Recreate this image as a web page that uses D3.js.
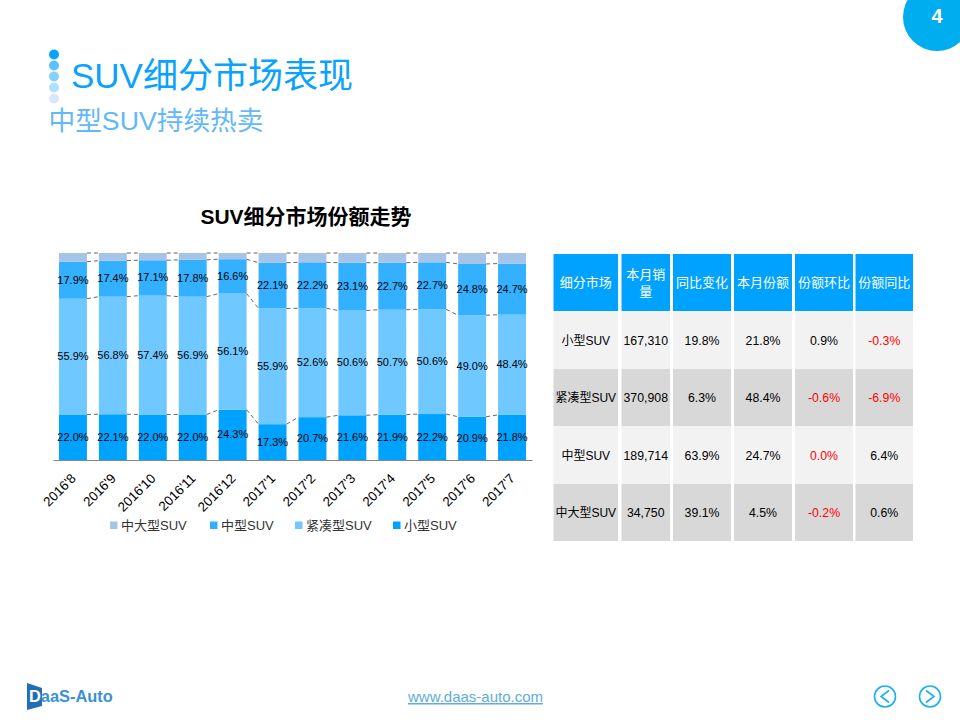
<!DOCTYPE html>
<html>
<head>
<meta charset="utf-8">
<script src="https://cdn.jsdelivr.net/npm/d3@7"></script>
<style>
    html, body { margin: 0; padding: 0; background: #fff; }
    svg { display: block; }
    text { font-family: "Liberation Sans", "Noto Sans CJK SC", sans-serif; }
</style>
</head>
<body>
<div id="chart"></div>
<script>
// share per month, stacked from the bottom up
const data = [
    {month: "2016'8",  small: 22.0, compact: 55.9, mid: 17.9, large: 4.2},
    {month: "2016'9",  small: 22.1, compact: 56.8, mid: 17.4, large: 3.7},
    {month: "2016'10", small: 22.0, compact: 57.4, mid: 17.1, large: 3.5},
    {month: "2016'11", small: 22.0, compact: 56.9, mid: 17.8, large: 3.3},
    {month: "2016'12", small: 24.3, compact: 56.1, mid: 16.6, large: 3.0},
    {month: "2017'1",  small: 17.3, compact: 55.9, mid: 22.1, large: 4.7},
    {month: "2017'2",  small: 20.7, compact: 52.6, mid: 22.2, large: 4.5},
    {month: "2017'3",  small: 21.6, compact: 50.6, mid: 23.1, large: 4.7},
    {month: "2017'4",  small: 21.9, compact: 50.7, mid: 22.7, large: 4.7},
    {month: "2017'5",  small: 22.2, compact: 50.6, mid: 22.7, large: 4.5},
    {month: "2017'6",  small: 20.9, compact: 49.0, mid: 24.8, large: 5.3},
    {month: "2017'7",  small: 21.8, compact: 48.4, mid: 24.7, large: 5.1}
];

const keys = ['small', 'compact', 'mid', 'large'];
const colors = {small: '#00a2ff', compact: '#6fc8ff', mid: '#33b0ff', large: '#a6c3e8'};
const names = {small: '小型SUV', compact: '紧凑型SUV', mid: '中型SUV', large: '中大型SUV'};

const header = ['细分市场', '本月销量', '同比变化', '本月份额', '份额环比', '份额同比'];
const rows = [
    ['小型SUV', '167,310', '19.8%', '21.8%', '0.9%', '-0.3%'],
    ['紧凑型SUV', '370,908', '6.3%', '48.4%', '-0.6%', '-6.9%'],
    ['中型SUV', '189,714', '63.9%', '24.7%', '0.0%', '6.4%'],
    ['中大型SUV', '34,750', '39.1%', '4.5%', '-0.2%', '0.6%']
];

const svg = d3.select('#chart').append('svg')
    .attr('width', 960)
    .attr('height', 720);

// slide furniture
svg.append('circle').attr('cx', 937).attr('cy', 17).attr('r', 34).attr('fill', '#00aeef');
svg.append('text').attr('x', 937).attr('y', 23).attr('text-anchor', 'middle')
    .attr('font-size', 20).attr('font-weight', 'bold').attr('fill', '#fff').text('4');

const dots = ['#0aa2ff', '#5cc1ff', '#85d0ff', '#aee0ff', '#d6e8f7'];
svg.selectAll('.dot').data(dots).enter().append('circle')
    .attr('class', 'dot')
    .attr('cx', 54)
    .attr('cy', (d, i) => 54.5 + i * 11)
    .attr('r', 5)
    .attr('fill', d => d);

svg.append('text').attr('x', 71).attr('y', 88).attr('font-size', 35)
    .attr('fill', '#0aa2ff').text('SUV细分市场表现');
svg.append('text').attr('x', 48.5).attr('y', 130).attr('font-size', 26.7)
    .attr('fill', '#63b8fa').text('中型SUV持续热卖');

svg.append('text').attr('x', 306).attr('y', 224).attr('text-anchor', 'middle')
    .attr('font-size', 21).attr('font-weight', 'bold').attr('fill', '#000').text('SUV细分市场份额走势');

// stacked bars
const margin = {top: 253, left: 53, right: 428, bottom: 260};
const width = 960 - margin.left - margin.right,
      height = 720 - margin.top - margin.bottom;

const chart = svg.append('g')
    .attr('transform', `translate(${margin.left},${margin.top})`);

const x = d3.scaleBand()
    .domain(data.map(d => d.month))
    .range([0, width])
    .paddingInner(0.3)
    .paddingOuter(0.15);
const y = d3.scaleLinear().domain([0, 100]).range([height, 0]);

const stacked = d3.stack().keys(keys)(data);

const layer = chart.selectAll('.layer').data(stacked).enter().append('g')
    .attr('class', 'layer')
    .attr('fill', d => colors[d.key]);

layer.selectAll('rect').data(d => d).enter().append('rect')
    .attr('x', d => x(d.data.month))
    .attr('y', d => y(d[1]))
    .attr('width', x.bandwidth())
    .attr('height', d => y(d[0]) - y(d[1]));

// dashed series lines between neighbouring bars
stacked.forEach(s => {
    chart.selectAll(null).data(s.slice(1)).enter().append('line')
        .attr('x1', (d, i) => x(s[i].data.month) + x.bandwidth())
        .attr('x2', d => x(d.data.month))
        .attr('y1', (d, i) => y(s[i][1]))
        .attr('y2', d => y(d[1]))
        .attr('stroke', '#404040')
        .attr('stroke-width', 0.8)
        .attr('stroke-dasharray', '4,3');
});

// labels for the three lower series
stacked.slice(0, 3).forEach(s => {
    chart.selectAll(null).data(s).enter().append('text')
        .attr('x', d => x(d.data.month) + x.bandwidth() / 2)
        .attr('y', d => (y(d[0]) + y(d[1])) / 2 + 3.5)
        .attr('text-anchor', 'middle')
        .attr('font-size', 11)
        .attr('fill', '#000')
        .text(d => d.data[s.key].toFixed(1) + '%');
});

const xAxis = chart.append('g')
    .attr('transform', `translate(0,${height})`)
    .call(d3.axisBottom(x).tickSize(0).tickPadding(9));
xAxis.select('.domain').attr('stroke', '#868686').attr('stroke-width', 1);
xAxis.selectAll('text')
    .attr('font-family', '"Liberation Sans", sans-serif')
    .attr('font-size', 13.3)
    .attr('fill', '#000')
    .attr('text-anchor', 'end')
    .attr('dx', '-11px')
    .attr('dy', '7.3px')
    .attr('transform', 'rotate(-45)');

// legend, widest entry order as on the slide
const legendX = {large: 110, mid: 210, compact: 295, small: 393};
const legend = svg.selectAll('.legend').data(keys.slice().reverse()).enter().append('g')
    .attr('class', 'legend')
    .attr('transform', d => `translate(${legendX[d]},525)`);
legend.append('rect').attr('y', -3.5).attr('width', 7.5).attr('height', 7.5).attr('fill', d => colors[d]);
legend.append('text').attr('x', 11).attr('y', 5).attr('font-size', 13).attr('fill', '#333')
    .text(d => names[d]);

// table
const colEdges = [[553.5, 618], [621.5, 670], [673, 731], [734, 792], [795, 853], [855.5, 913]];
const rowEdges = [[254, 311], [311.5, 369], [369, 426], [426, 484], [484, 541]];
const table = svg.append('g');

const tableRows = table.selectAll('.row').data([header].concat(rows)).enter().append('g')
    .attr('class', 'row');

const cells = tableRows.selectAll('g')
    .data((row, r) => row.map((v, c) => ({v, r, c})))
    .enter().append('g');

cells.append('rect')
    .attr('x', d => colEdges[d.c][0])
    .attr('y', d => rowEdges[d.r][0])
    .attr('width', d => colEdges[d.c][1] - colEdges[d.c][0])
    .attr('height', d => rowEdges[d.r][1] - rowEdges[d.r][0])
    .attr('fill', d => d.r === 0 ? '#00a2ff' : (d.r % 2 ? '#f2f2f2' : '#d8d8d8'));

// share change column is red for anything not positive
const isRed = d => d.r > 0 && (d.v.startsWith('-') || (d.c === 4 && d.v === '0.0%'));

cells.each(function(d) {
    const cx = (colEdges[d.c][0] + colEdges[d.c][1]) / 2;
    const cy = (rowEdges[d.r][0] + rowEdges[d.r][1]) / 2;
    // the one header that wraps in its narrow column
    const lines = d.v === '本月销量' ? ['本月销', '量'] : [d.v];
    d3.select(this).selectAll('text').data(lines).enter().append('text')
        .attr('x', cx)
        .attr('y', (l, i) => cy + 4.5 + (i - (lines.length - 1) / 2) * 17)
        .attr('text-anchor', 'middle')
        .attr('font-size', d.r === 0 ? 13 : (d.c === 0 ? 12 : 12.3))
        .attr('fill', d.r === 0 ? '#fff' : (isRed(d) ? '#ff0000' : '#000'))
        .text(l => l);
});

// footer
svg.append('path')
    .attr('d', 'M27,683 L42,688 L42,706 L27,710 Z')
    .attr('fill', '#1f6fb2');
const logo = svg.append('text').attr('x', 29).attr('y', 701.5).attr('font-size', 16.4)
    .attr('font-weight', 'bold').attr('fill', '#3a92d4');
logo.append('tspan').attr('fill', '#fff').text('D');
logo.append('tspan').text('aaS-Auto');

svg.append('text').attr('x', 475.5).attr('y', 702).attr('text-anchor', 'middle')
    .attr('font-size', 15).attr('fill', '#62abdc').attr('text-decoration', 'underline')
    .text('www.daas-auto.com');

const nav = [{cx: 885, d: 'M889,690.5 L881,696.5 L889,702.5'}, {cx: 930, d: 'M926,690.5 L934,696.5 L926,702.5'}];
nav.forEach(n => {
    svg.append('circle').attr('cx', n.cx).attr('cy', 696.5).attr('r', 10.5)
        .attr('fill', 'none').attr('stroke', '#1ab0f0').attr('stroke-width', 1.6);
    svg.append('path').attr('d', n.d).attr('fill', 'none')
        .attr('stroke', '#1ab0f0').attr('stroke-width', 1.6);
});
</script>
</body>
</html>
